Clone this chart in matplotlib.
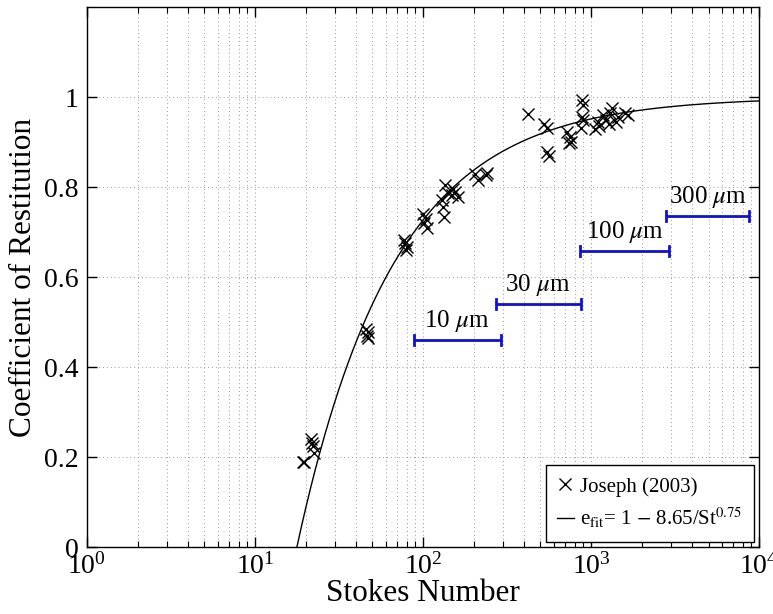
import numpy as np
import matplotlib
matplotlib.use("Agg")
import matplotlib.pyplot as plt
from matplotlib.ticker import LogLocator, NullFormatter

plt.rcParams['font.family'] = ['Liberation Serif', 'DejaVu Serif']
plt.rcParams['mathtext.fontset'] = 'stix'

# Measured restitution coefficients, Joseph (2003)
stokes = [19.2, 19.7, 21.5, 22.0, 22.3, 21.8,
          46.0, 47.0, 46.5, 47.2,
          77.0, 78.5, 80.0, 79.0,
          100.0, 104.0, 102.0, 106.0,
          135.0, 141.0, 130.0, 131.0, 134.0, 148.0, 155.0, 161.0, 150.0,
          204.0, 212.0, 240.0, 236.0,
          422.0, 525.0, 545.0, 548.0, 560.0,
          880.0, 890.0, 885.0, 895.0, 870.0,
          720.0, 745.0, 760.0, 740.0,
          1050.0, 1100.0, 1120.0, 1180.0, 1230.0, 1300.0, 1340.0, 1280.0, 1400.0, 1450.0, 1600.0, 1650.0]
restitution = [0.19, 0.188, 0.24, 0.225, 0.21, 0.232,
               0.485, 0.478, 0.47, 0.465,
               0.682, 0.675, 0.667, 0.66,
               0.74, 0.73, 0.72, 0.708,
               0.804, 0.787, 0.771, 0.756, 0.733, 0.782, 0.789, 0.778, 0.795,
               0.83, 0.815, 0.831, 0.826,
               0.962, 0.94, 0.932, 0.878, 0.870,
               0.993, 0.982, 0.956, 0.949, 0.931,
               0.922, 0.911, 0.901, 0.897,
               0.93, 0.945, 0.935, 0.96, 0.95, 0.965, 0.975, 0.94, 0.945, 0.955, 0.965, 0.96]

# Fit parameters: e = 1 - a / St^b
fit_a = 8.65
fit_b = 0.75

# Stokes-number ranges for each particle size
size_labels = [r'10 $\mu$m', r'30 $\mu$m', r'100 $\mu$m', r'300 $\mu$m']
size_st_lo = [88.0, 270.0, 865.0, 2790.0]
size_st_hi = [290.0, 870.0, 2900.0, 8750.0]
size_level = [0.46, 0.54, 0.657, 0.735]

fig = plt.figure(figsize=(7.73, 6.14), dpi=100)
ax = fig.add_axes([0.1125, 0.109, 0.8695, 0.8796])

st0 = fit_a ** (1.0 / fit_b)
st_curve = np.logspace(np.log10(st0), 4, 400)
e_curve = 1 - fit_a / st_curve ** fit_b

ax.plot(stokes, restitution, linestyle='none', marker='x', color='black',
        markersize=9, markeredgewidth=1.0, label='Joseph (2003)')
ax.plot(st_curve, e_curve, color='black', linewidth=1.0,
        label=r'e$_{\rm fit}$= 1 $-$ 8.65/St$^{0.75}$')

blue = '#1010d0'
for lab, lo, hi, lev in zip(size_labels, size_st_lo, size_st_hi, size_level):
    ax.plot([lo, hi], [lev, lev], color=blue, linewidth=2.0, solid_capstyle='butt')
    ax.plot([lo, lo], [lev - 0.011, lev + 0.011], color=blue, linewidth=2.0)
    ax.plot([hi, hi], [lev - 0.011, lev + 0.011], color=blue, linewidth=2.0)
    xc = np.sqrt(lo * hi)
    ax.text(xc, lev + 0.014, lab, ha='center', va='bottom', fontsize=18)

ax.set_xscale('log')
ax.set_xlim(1, 1e4)
ax.set_ylim(0, 1.2)
ax.set_yticks([0, 0.2, 0.4, 0.6, 0.8, 1.0])
ax.set_yticklabels(['0', '0.2', '0.4', '0.6', '0.8', '1'])
ax.xaxis.set_major_locator(LogLocator(base=10, numticks=10))
ax.xaxis.set_minor_locator(LogLocator(base=10, subs=np.arange(2, 10), numticks=50))
ax.xaxis.set_minor_formatter(NullFormatter())

ax.grid(True, which='major', axis='both', linestyle=(0, (1, 3)), color='#999999', linewidth=0.7)
ax.grid(True, which='minor', axis='x', linestyle=(0, (1, 3)), color='#999999', linewidth=0.7)

ax.tick_params(which='both', direction='in', top=True, right=True, labelsize=20)
ax.tick_params(axis='x', which='major', pad=4)
ax.tick_params(axis='y', which='major', pad=6)
ax.tick_params(which='major', length=7, width=1.0)
ax.tick_params(which='minor', length=4, width=0.8)
for sp in ax.spines.values():
    sp.set_linewidth(1.0)

ax.set_xlabel('Stokes Number', fontsize=22.5, labelpad=0)
ax.set_ylabel('Coefficient of Restitution', fontsize=22.5, labelpad=4)

leg = ax.legend(loc='lower right', fontsize=15, frameon=True, fancybox=False,
                edgecolor='black', framealpha=1.0, borderaxespad=0.25,
                handlelength=0.8, handletextpad=0.3, borderpad=0.55,
                labelspacing=0.45)
leg.get_frame().set_linewidth(1.0)

fig.savefig('out.png', dpi=100)
